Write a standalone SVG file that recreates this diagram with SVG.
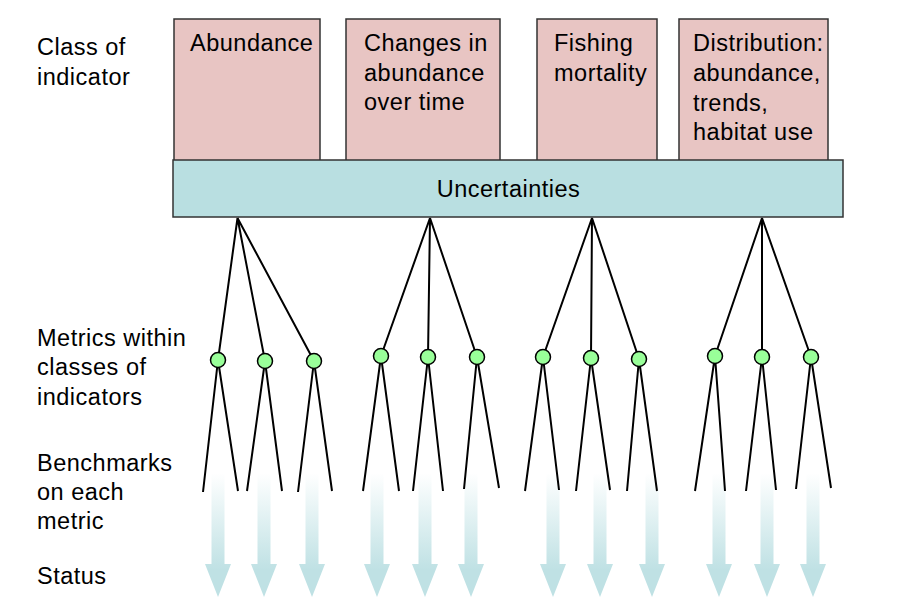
<svg xmlns="http://www.w3.org/2000/svg" width="922" height="607" viewBox="0 0 922 607">
<style>
text{font-family:"Liberation Sans",Arial,sans-serif;font-size:23.5px;letter-spacing:0.5px;fill:#000}
.cls{fill:#E8C5C3;stroke:#333;stroke-width:1.5}
.unc{fill:#B9DFE1;stroke:#333;stroke-width:1.5}
.ln{stroke:#000;stroke-width:2;fill:none}
.dot{fill:#99FF99;stroke:#000;stroke-width:1.5}
.arr{fill:url(#ag)}
</style>
<defs>
<linearGradient id="ag" gradientUnits="userSpaceOnUse" x1="0" y1="473" x2="0" y2="570">
<stop offset="0" stop-color="#FFFFFF"/>
<stop offset="1" stop-color="#BFE1E4"/>
</linearGradient>
<path id="arrow" d="M-6.5,473 H6.5 V564 H13 L0,597 L-13,564 H-6.5 Z"/>
</defs>
<rect width="922" height="607" fill="#fff"/>
<g id="labels">
<text x="37" y="55">Class of</text>
<text x="37" y="85">indicator</text>
<text x="37" y="346">Metrics within</text>
<text x="37" y="375">classes of</text>
<text x="37" y="405">indicators</text>
<text x="37" y="471">Benchmarks</text>
<text x="37" y="500">on each</text>
<text x="37" y="529">metric</text>
<text x="37" y="584">Status</text>
</g>
<g id="class-abundance">
<rect class="cls" x="174" y="19" width="146" height="145"/>
<text x="190" y="51">Abundance</text>
</g>
<g id="class-changes">
<rect class="cls" x="346" y="19" width="154" height="145"/>
<text x="364" y="51">Changes in</text>
<text x="364" y="81">abundance</text>
<text x="364" y="110">over time</text>
</g>
<g id="class-fishing">
<rect class="cls" x="537" y="19" width="120" height="145"/>
<text x="554" y="51">Fishing</text>
<text x="554" y="81">mortality</text>
</g>
<g id="class-distribution">
<rect class="cls" x="679" y="19" width="149" height="145"/>
<text x="693" y="51">Distribution:</text>
<text x="693" y="81">abundance,</text>
<text x="693" y="111">trends,</text>
<text x="693" y="140">habitat use</text>
</g>
<g id="uncertainties">
<rect class="unc" x="173" y="160" width="670" height="57"/>
<text x="508.5" y="197" text-anchor="middle">Uncertainties</text>
</g>
<g id="status-arrows">
<use href="#arrow" class="arr" x="218"/>
<use href="#arrow" class="arr" x="264"/>
<use href="#arrow" class="arr" x="312"/>
<use href="#arrow" class="arr" x="377"/>
<use href="#arrow" class="arr" x="425"/>
<use href="#arrow" class="arr" x="471"/>
<use href="#arrow" class="arr" x="553"/>
<use href="#arrow" class="arr" x="600"/>
<use href="#arrow" class="arr" x="652"/>
<use href="#arrow" class="arr" x="719"/>
<use href="#arrow" class="arr" x="767"/>
<use href="#arrow" class="arr" x="813"/>
</g>
<g id="connectors" class="ln">
<path d="M237.5,218 L218,360 M237.5,218 L265,361 M237.5,218 L314,361"/>
<path d="M430,218 L381,356 M430,218 L428,357 M430,218 L477,357"/>
<path d="M592,218 L543,357 M592,218 L591,358 M592,218 L639,359"/>
<path d="M762,218 L715,356 M762,218 L762,357 M762,218 L811,357"/>
<path d="M218,360 L203,492 M218,360 L238,491"/>
<path d="M265,361 L247,491 M265,361 L282,491"/>
<path d="M314,361 L298,492 M314,361 L332,491"/>
<path d="M381,356 L363,491 M381,356 L399,491"/>
<path d="M428,357 L413,491 M428,357 L443,491"/>
<path d="M477,357 L464,489 M477,357 L499,488"/>
<path d="M543,357 L525,491 M543,357 L559,490"/>
<path d="M591,358 L576,491 M591,358 L610,490"/>
<path d="M639,359 L627,491 M639,359 L657,491"/>
<path d="M715,356 L695,491 M715,356 L725,491"/>
<path d="M762,357 L746,491 M762,357 L776,490"/>
<path d="M811,357 L796,489 M811,357 L831,488"/>
</g>
<g id="metrics">
<circle class="dot" cx="218" cy="360" r="7.5"/>
<circle class="dot" cx="265" cy="361" r="7.5"/>
<circle class="dot" cx="314" cy="361" r="7.5"/>
<circle class="dot" cx="381" cy="356" r="7.5"/>
<circle class="dot" cx="428" cy="357" r="7.5"/>
<circle class="dot" cx="477" cy="357" r="7.5"/>
<circle class="dot" cx="543" cy="357" r="7.5"/>
<circle class="dot" cx="591" cy="358" r="7.5"/>
<circle class="dot" cx="639" cy="359" r="7.5"/>
<circle class="dot" cx="715" cy="356" r="7.5"/>
<circle class="dot" cx="762" cy="357" r="7.5"/>
<circle class="dot" cx="811" cy="357" r="7.5"/>
</g>
</svg>
